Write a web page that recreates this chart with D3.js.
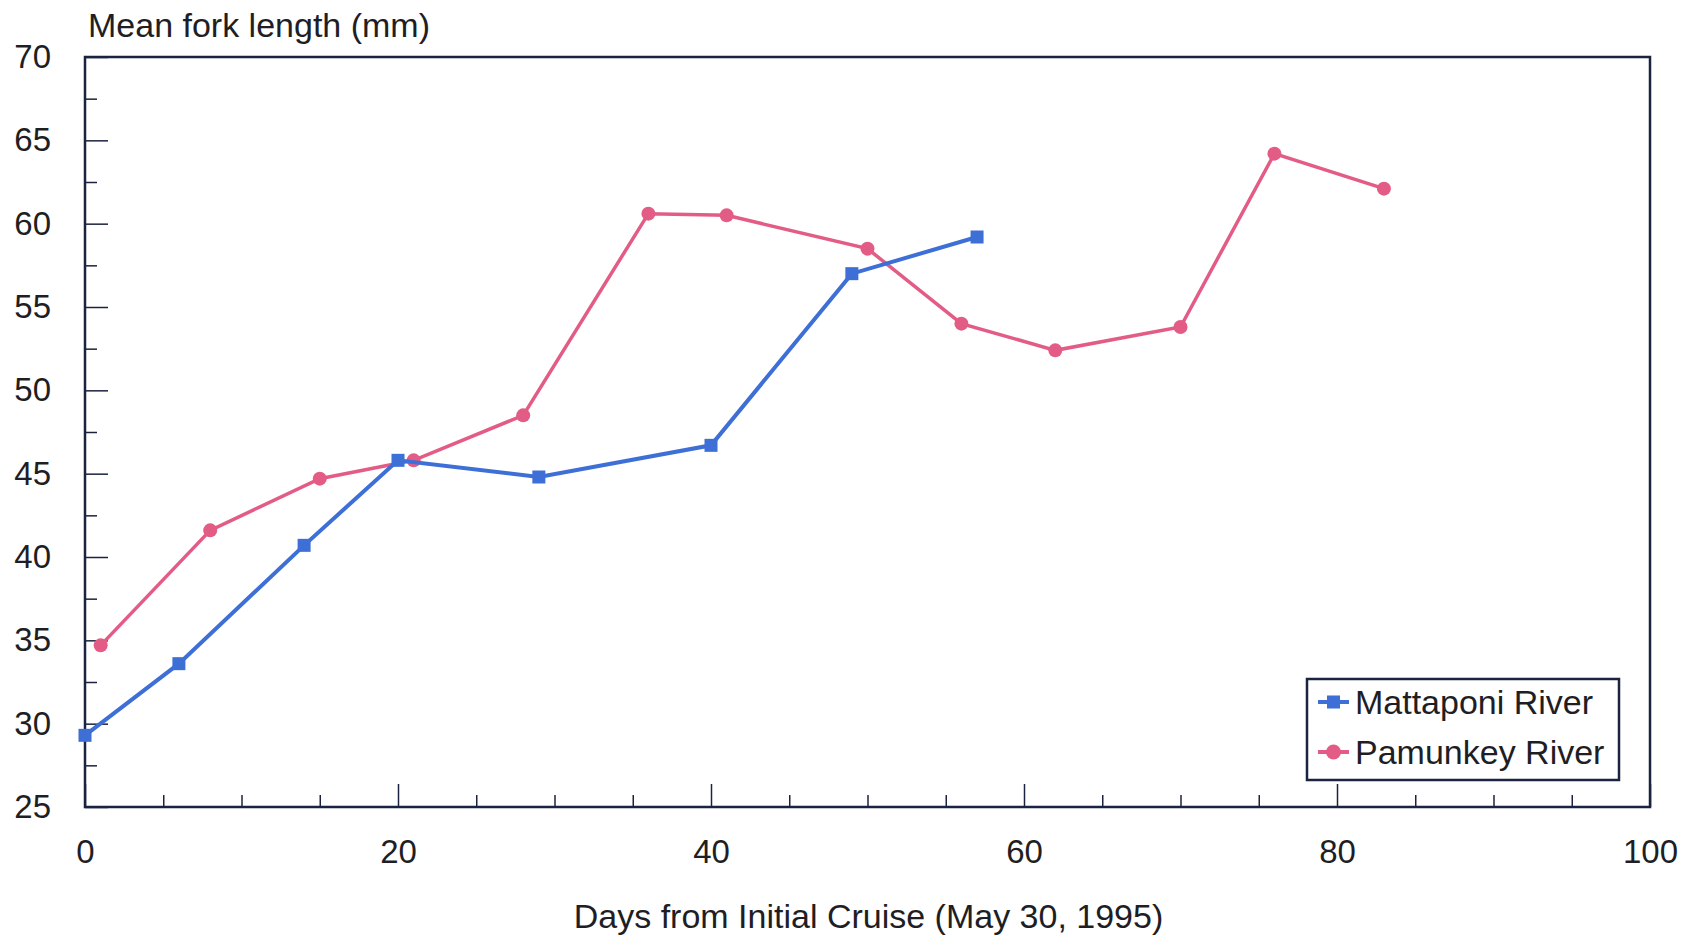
<!DOCTYPE html>
<html>
<head>
<meta charset="utf-8">
<script src="https://cdn.jsdelivr.net/npm/d3@7"></script>
<style>
  body { margin: 0; background: #fff; }
  text { font-family: "Liberation Sans", Arial, sans-serif; fill: #1e1e24; }
</style>
</head>
<body>
<div id="chart"></div>
<script>
// data
const mattaponiDays = [0, 6, 14, 20, 29, 40, 49, 57]
const mattaponiLen = [29.3, 33.6, 40.7, 45.8, 44.8, 46.7, 57.0, 59.2]
const pamunkeyDays = [1, 8, 15, 21, 28, 36, 41, 50, 56, 62, 70, 76, 83]
const pamunkeyLen = [34.7, 41.6, 44.7, 45.8, 48.5, 60.6, 60.5, 58.5, 54.0, 52.4, 53.8, 64.2, 62.1]
const xTicks = [0, 20, 40, 60, 80, 100]
const xMinor = [5, 10, 15, 25, 30, 35, 45, 50, 55, 65, 70, 75, 85, 90, 95]
const yTicks = [25, 30, 35, 40, 45, 50, 55, 60, 65, 70]
const yMinor = [27.5, 32.5, 37.5, 42.5, 47.5, 52.5, 57.5, 62.5, 67.5]
const seriesNames = ["Mattaponi River", "Pamunkey River"]

const W = 1690, H = 939
const mLeft = 85, mRight = 1650, mTop = 57, mBottom = 807
const axisColor = "#1b2340"
const blue = "#3d6fd6", pink = "#e35c85"
const fs = 33

const svg = d3.select("#chart").append("svg")
    .attr("width", W)
    .attr("height", H)

const x = d3.scaleLinear().domain([0, 100]).range([mLeft, mRight])
const y = d3.scaleLinear().domain([25, 70]).range([mBottom, mTop])

// frame
svg.append("rect")
    .attr("x", mLeft).attr("y", mTop)
    .attr("width", mRight - mLeft).attr("height", mBottom - mTop)
    .attr("fill", "none").attr("stroke", axisColor).attr("stroke-width", 2.5)

const styleAxis = g => {
    g.select(".domain").remove()
    g.selectAll("line").attr("stroke", axisColor).attr("stroke-width", 1.5)
    g.selectAll("text").attr("font-size", fs).attr("fill", "#1e1e24")
        .attr("font-family", "Liberation Sans, Arial, sans-serif")
}

svg.append("g").attr("transform", `translate(0,${mBottom})`)
    .call(d3.axisBottom(x).tickValues(xTicks).tickSize(-23).tickPadding(33).tickFormat(d3.format("d")))
    .call(styleAxis)
svg.append("g").attr("transform", `translate(0,${mBottom})`)
    .call(d3.axisBottom(x).tickValues(xMinor).tickSize(-12).tickFormat(""))
    .call(styleAxis)

svg.append("g").attr("transform", `translate(${mLeft},0)`)
    .call(d3.axisLeft(y).tickValues(yTicks).tickSize(-23).tickPadding(34).tickFormat(d3.format("d")))
    .call(styleAxis)
svg.append("g").attr("transform", `translate(${mLeft},0)`)
    .call(d3.axisLeft(y).tickValues(yMinor).tickSize(-12).tickFormat(""))
    .call(styleAxis)

// titles
svg.append("text")
    .attr("x", 88).attr("y", 37)
    .attr("font-size", 34)
    .text("Mean fork length (mm)")

svg.append("text")
    .attr("x", (mLeft + mRight) / 2 + 1).attr("y", 928)
    .attr("text-anchor", "middle")
    .attr("font-size", 34)
    .text("Days from Initial Cruise (May 30, 1995)")

// lines
const mattaponi = mattaponiDays.map((d, i) => ({ day: d, len: mattaponiLen[i] }))
const pamunkey = pamunkeyDays.map((d, i) => ({ day: d, len: pamunkeyLen[i] }))

const line = d3.line().x(d => x(d.day)).y(d => y(d.len))

svg.append("path").datum(pamunkey)
    .attr("d", line).attr("fill", "none")
    .attr("stroke", pink).attr("stroke-width", 3.5)
svg.selectAll(".pdot").data(pamunkey).enter()
    .append("circle").attr("class", "pdot")
    .attr("cx", d => x(d.day)).attr("cy", d => y(d.len))
    .attr("r", 7).attr("fill", pink)

svg.append("path").datum(mattaponi)
    .attr("d", line).attr("fill", "none")
    .attr("stroke", blue).attr("stroke-width", 4)
svg.selectAll(".mdot").data(mattaponi).enter()
    .append("rect").attr("class", "mdot")
    .attr("x", d => x(d.day) - 6.5).attr("y", d => y(d.len) - 6.5)
    .attr("width", 13).attr("height", 13)
    .attr("fill", blue)

// legend
const lg = svg.append("g").attr("transform", "translate(1307,679)")
lg.append("rect")
    .attr("width", 312).attr("height", 101)
    .attr("fill", "#fff").attr("stroke", axisColor).attr("stroke-width", 2.5)

const lgItems = lg.selectAll(".item").data(seriesNames).enter()
    .append("g").attr("class", "item")
    .attr("transform", (d, i) => `translate(0,${23 + i * 50})`)
lgItems.append("line")
    .attr("x1", 11).attr("x2", 42)
    .attr("stroke", (d, i) => i === 0 ? blue : pink).attr("stroke-width", 4)
lgItems.each(function (d, i) {
    const g = d3.select(this)
    if (i === 0) {
        g.append("rect").attr("x", 20).attr("y", -6.5).attr("width", 13).attr("height", 13).attr("fill", blue)
    } else {
        g.append("circle").attr("cx", 26.5).attr("r", 7.5).attr("fill", pink)
    }
})
lgItems.append("text")
    .attr("x", 48).attr("y", 12)
    .attr("font-size", 34)
    .text(d => d)
</script>
</body>
</html>
